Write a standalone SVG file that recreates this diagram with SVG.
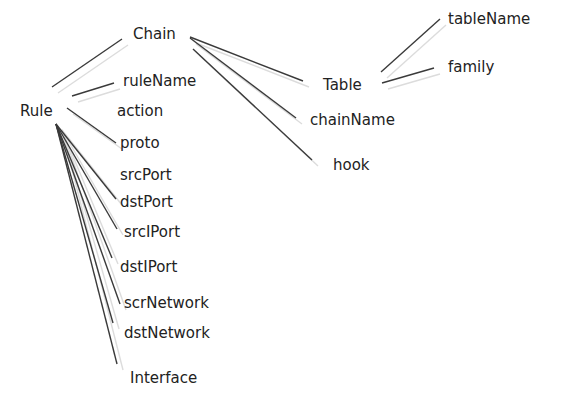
<svg xmlns="http://www.w3.org/2000/svg" width="569" height="407" viewBox="0 0 569 407">
<defs>
<style>
text{font-family:"DejaVu Sans",sans-serif;font-size:15px;fill:#222}
.d{stroke:#3a3a3a;stroke-width:1.4;fill:none}
.l{stroke:#dcdcdc;stroke-width:1.4;fill:none}
</style>
</defs>
<rect width="569" height="407" fill="#fff"/>
<g id="connectors">
<g id="shadows" class="l" transform="translate(6,6)">
<line x1="52" y1="87" x2="122" y2="39"/>
<line x1="72" y1="96" x2="114" y2="83"/>
<line x1="67" y1="108" x2="116" y2="143"/>
<line x1="56" y1="124" x2="116" y2="199"/>
<line x1="56" y1="124" x2="117" y2="229"/>
<line x1="56" y1="124" x2="112" y2="258"/>
<line x1="56" y1="124" x2="120" y2="304"/>
<line x1="56" y1="124" x2="113" y2="323"/>
<line x1="56" y1="124" x2="117" y2="364"/>
<line x1="190" y1="37" x2="303" y2="81"/>
<line x1="190" y1="38" x2="296" y2="118"/>
<line x1="193" y1="49" x2="312" y2="160"/>
<line x1="381" y1="72" x2="440" y2="19"/>
<line x1="382" y1="83" x2="434" y2="68"/>
</g>
<g class="d">
<line x1="52" y1="87" x2="122" y2="39"/>
<line x1="72" y1="96" x2="114" y2="83"/>
<line x1="67" y1="108" x2="116" y2="143"/>
<line x1="56" y1="124" x2="116" y2="199"/>
<line x1="56" y1="124" x2="117" y2="229"/>
<line x1="56" y1="124" x2="112" y2="258"/>
<line x1="56" y1="124" x2="120" y2="304"/>
<line x1="56" y1="124" x2="113" y2="323"/>
<line x1="56" y1="124" x2="117" y2="364"/>
<line x1="190" y1="37" x2="303" y2="81"/>
<line x1="190" y1="38" x2="296" y2="118"/>
<line x1="193" y1="49" x2="312" y2="160"/>
<line x1="381" y1="72" x2="440" y2="19"/>
<line x1="382" y1="83" x2="434" y2="68"/>
</g>
</g>
<g id="Chain"><text x="133" y="39">Chain</text></g>
<g id="Rule"><text x="20" y="116">Rule</text></g>
<g id="ruleName"><text x="123" y="86">ruleName</text></g>
<g id="action"><text x="117" y="116">action</text></g>
<g id="proto"><text x="120" y="148">proto</text></g>
<g id="srcPort"><text x="120" y="180">srcPort</text></g>
<g id="dstPort"><text x="120" y="207">dstPort</text></g>
<g id="srcIPort"><text x="124" y="237">srcIPort</text></g>
<g id="dstIPort"><text x="120" y="272">dstIPort</text></g>
<g id="scrNetwork"><text x="124" y="308">scrNetwork</text></g>
<g id="dstNetwork"><text x="124" y="338">dstNetwork</text></g>
<g id="Interface"><text x="130" y="383">Interface</text></g>
<g id="Table"><text x="323" y="90">Table</text></g>
<g id="chainName"><text x="310" y="125">chainName</text></g>
<g id="hook"><text x="333" y="170">hook</text></g>
<g id="tableName"><text x="448" y="24">tableName</text></g>
<g id="family"><text x="448" y="72">family</text></g>
</svg>
